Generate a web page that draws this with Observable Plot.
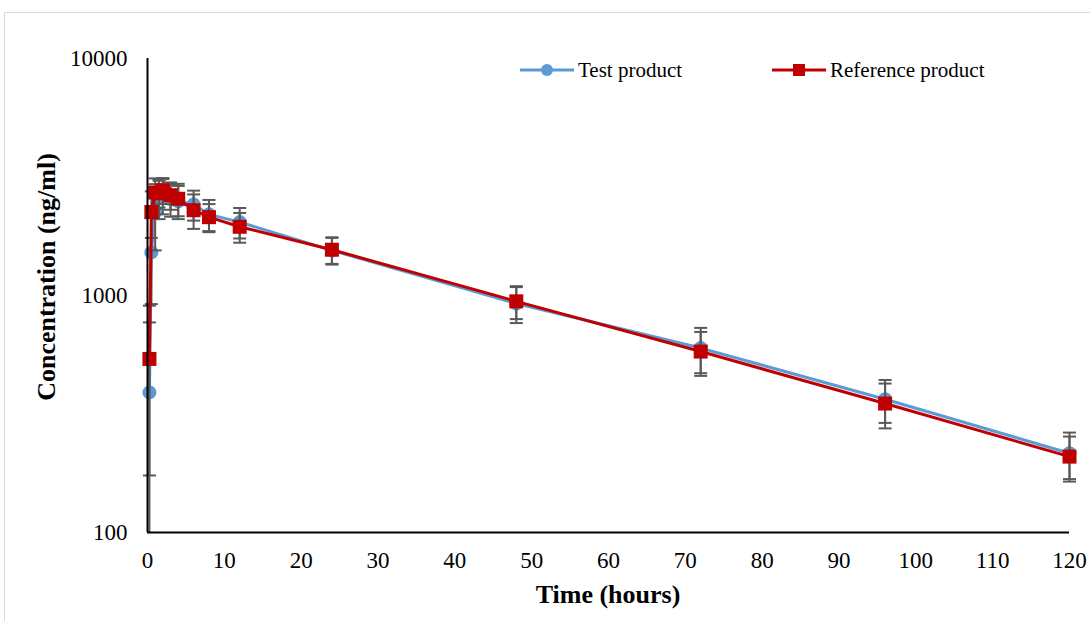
<!DOCTYPE html>
<html>
<head>
<meta charset="utf-8">
<script src="https://cdn.jsdelivr.net/npm/d3@7"></script>
<script src="https://cdn.jsdelivr.net/npm/@observablehq/plot@0.6"></script>
<style>
  html, body { margin: 0; padding: 0; background: #fff; }
  #wrap { position: relative; width: 1090px; height: 621px; overflow: hidden; font-family: "Liberation Serif", "Times New Roman", serif; }
  #frame { position: absolute; left: 4px; top: 12px; width: 1200px; height: 800px; border: 1.5px solid #d9d9d9; box-sizing: border-box; }
  #chart { position: absolute; left: 0; top: 0; }
  .title { position: absolute; font-weight: bold; font-size: 26px; color: #000; white-space: nowrap; }
  #xtitle { left: 0; width: 1216px; text-align: center; top: 580px; }
  #ytitle { left: 47px; top: 277px; transform: translate(-50%, -50%) rotate(-90deg); }
  #legend { position: absolute; left: 0; top: 0; }
</style>
</head>
<body>
<div id="wrap">
  <div id="frame"></div>
  <div id="chart"></div>
  <div class="title" id="xtitle">Time (hours)</div>
  <div class="title" id="ytitle">Concentration (ng/ml)</div>
</div>
<script>
// ---- data ----
const times    = [0.25, 0.5, 1, 1.5, 2, 3, 4, 6, 8, 12, 24, 48, 72, 96, 120];
const testMean = [390, 1520, 2250, 2600, 2650, 2550, 2500, 2420, 2200, 2040, 1550, 925, 600, 365, 216];
const testSD   = [380, 600, 700, 500, 450, 400, 400, 350, 330, 300, 200, 160, 130, 75, 48];
const refMean  = [540, 2250, 2720, 2700, 2780, 2650, 2560, 2290, 2140, 1950, 1560, 945, 580, 350, 209];
const refSD    = [366, 500, 400, 350, 350, 350, 400, 380, 290, 280, 200, 150, 122, 75, 45];
const seriesNames = ["Test product", "Reference product"];
const seriesColors = ["#5b9bd5", "#c00000"];
const xTicks = [0, 10, 20, 30, 40, 50, 60, 70, 80, 90, 100, 110, 120];
const yTicks = [100, 1000, 10000];
const yMin = 100, yMax = 10000;

const test = times.map((t, i) => ({t, mean: testMean[i], sd: testSD[i]}));
const ref  = times.map((t, i) => ({t, mean: refMean[i], sd: refSD[i]}));
function bars(rows) {
  return rows.map(d => {
    const lo = d.mean - d.sd, hi = d.mean + d.sd;
    return {t: d.t, lo: Math.max(lo, yMin), hi, loCap: lo >= yMin};
  });
}
const testBars = bars(test), refBars = bars(ref);
const allBars = testBars.concat(refBars);
const caps = allBars.flatMap(b => [{t: b.t, v: b.hi}].concat(b.loCap ? [{t: b.t, v: b.lo}] : []));

const capSymbol = { draw(ctx, size) { ctx.moveTo(-6.5, 0); ctx.lineTo(6.5, 0); } };
const squareSymbol = { draw(ctx, size) { ctx.rect(-7, -7, 14, 14); } };
const errColor = "#595959";

const chart = Plot.plot({
  width: 1090,
  height: 621,
  marginLeft: 147,
  marginRight: 21,
  marginTop: 58,
  marginBottom: 89,
  style: { fontFamily: "'Liberation Serif', 'Times New Roman', serif", fontSize: "23px", color: "#000", background: "transparent", overflow: "visible" },
  x: { domain: [0, 120], ticks: xTicks },
  y: { type: "log", domain: [yMin, yMax], ticks: yTicks },
  marks: [
    Plot.axisX({ticks: xTicks, tickSize: 0, tickPadding: 19, label: null, tickFormat: d => String(d)}),
    Plot.axisY({ticks: yTicks, tickSize: 0, tickPadding: 20, label: null, tickFormat: d3.format("d")}),
    // blue series
    Plot.line(test, {x: "t", y: "mean", stroke: seriesColors[0], strokeWidth: 3}),
    Plot.dot(test, {x: "t", y: "mean", r: 7, fill: seriesColors[0], stroke: "none"}),
    // error bars
    Plot.link(allBars, {x1: "t", x2: "t", y1: "lo", y2: "hi", stroke: errColor, strokeWidth: 2}),
    Plot.dot(caps, {x: "t", y: "v", symbol: capSymbol, stroke: errColor, strokeWidth: 2, fill: "none"}),
    // red series
    Plot.line(ref, {x: "t", y: "mean", stroke: seriesColors[1], strokeWidth: 3}),
    Plot.dot(ref, {x: "t", y: "mean", symbol: squareSymbol, fill: seriesColors[1], stroke: "none"}),
    // axes lines
    Plot.ruleX([0], {stroke: "#000", strokeWidth: 2}),
    Plot.ruleY([yMin], {stroke: "#000", strokeWidth: 2})
  ]
});
document.getElementById("chart").appendChild(chart);

// legend
const ns = "http://www.w3.org/2000/svg";
const leg = document.createElementNS(ns, "svg");
leg.setAttribute("width", 1090); leg.setAttribute("height", 100);
leg.setAttribute("id", "legend");
leg.style.position = "absolute"; leg.style.left = "0"; leg.style.top = "0";
const items = [{x0: 520, name: seriesNames[0], color: seriesColors[0], shape: "circle"},
               {x0: 772, name: seriesNames[1], color: seriesColors[1], shape: "square"}];
items.forEach(it => {
  const ln = document.createElementNS(ns, "line");
  ln.setAttribute("x1", it.x0); ln.setAttribute("x2", it.x0 + 54);
  ln.setAttribute("y1", 70); ln.setAttribute("y2", 70);
  ln.setAttribute("stroke", it.color); ln.setAttribute("stroke-width", 3);
  leg.appendChild(ln);
  let m;
  if (it.shape === "circle") {
    m = document.createElementNS(ns, "circle");
    m.setAttribute("cx", it.x0 + 27); m.setAttribute("cy", 70); m.setAttribute("r", 6);
  } else {
    m = document.createElementNS(ns, "rect");
    m.setAttribute("x", it.x0 + 27 - 6); m.setAttribute("y", 64); m.setAttribute("width", 12); m.setAttribute("height", 12);
  }
  m.setAttribute("fill", it.color);
  leg.appendChild(m);
  const tx = document.createElementNS(ns, "text");
  tx.setAttribute("x", it.x0 + 58); tx.setAttribute("y", 77);
  tx.setAttribute("font-family", "'Liberation Serif', 'Times New Roman', serif");
  tx.setAttribute("font-size", 21);
  tx.setAttribute("fill", "#000");
  tx.textContent = it.name;
  leg.appendChild(tx);
});
document.getElementById("wrap").appendChild(leg);
</script>
</body>
</html>
